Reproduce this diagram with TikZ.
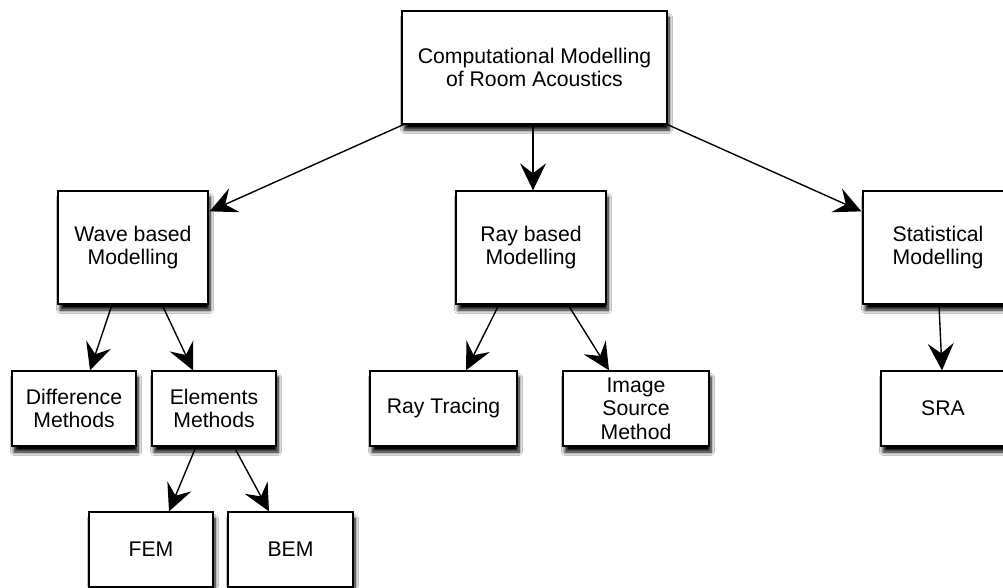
\documentclass[tikz,border=0pt]{standalone}
\usepackage{fontspec}
\setmainfont{Liberation Sans}
\usetikzlibrary{arrows.meta,calc,shadows.blur}
\begin{document}
\begin{tikzpicture}[x=1pt,y=-1pt,
  box/.style={draw=black, line width=1.3pt, fill=white, inner sep=0pt, align=center,
    font=\fontsize{21.2}{23.5}\selectfont,
    blur shadow={shadow xshift=2pt, shadow yshift=-6pt, shadow blur radius=3.5pt, shadow blur steps=8, shadow opacity=100}},
  conn/.style={line width=1.4pt, -{Stealth[length=27pt,width=26pt,inset=10pt]}}]
\useasboundingbox (0,0) rectangle (1003,587);
\fill[white] (0,0) rectangle (1003,587);
\node[box, minimum width=265pt, minimum height=113pt] (top) at (534.5,67.5) {Computational Modelling\\of Room Acoustics};
\node[box, minimum width=150pt, minimum height=113pt] (wave) at (133,247.5) {Wave based\\Modelling};
\node[box, minimum width=150pt, minimum height=113pt] (ray) at (531,247.5) {Ray based\\Modelling};
\node[box, minimum width=150pt, minimum height=113pt] (stat) at (938,247.5) {Statistical\\Modelling};
\node[box, minimum width=124pt, minimum height=75pt] (diff) at (74,408.5) {Difference\\Methods};
\node[box, minimum width=124pt, minimum height=75pt] (elem) at (214,408.5) {Elements\\Methods};
\node[box, minimum width=147pt, minimum height=75pt] (rayt) at (443.5,408.5) {Ray Tracing};
\node[box, minimum width=146pt, minimum height=75pt] (img) at (636,408.5) {Image\\Source\\Method};
\node[box, minimum width=124pt, minimum height=75pt] (sra) at (943,408.5) {SRA};
\node[box, minimum width=124pt, minimum height=75pt] (fem) at (151,549.5) {FEM};
\node[box, minimum width=125pt, minimum height=75pt] (bem) at (290.5,549.5) {BEM};
\draw[conn] ($(top.south west)+(2,0)$) -- ($(wave.north east)+(1,21)$);
\draw[conn] ($(top.south)+(-1.5,0)$) -- ($(ray.north)+(2,0)$);
\draw[conn] (top.south east) -- ($(stat.north west)+(-1,21)$);
\draw[conn] ($(wave.south)+(-21,0)$) -- ($(diff.north)+(16,0)$);
\draw[conn] ($(wave.south)+(29,0)$) -- ($(elem.north)+(-21,0)$);
\draw[conn] ($(ray.south)+(-32,0)$) -- ($(rayt.north)+(22.5,0)$);
\draw[conn] ($(ray.south)+(37,0)$) -- ($(img.north)+(-27,0)$);
\draw[conn] ($(stat.south)+(1,0)$) -- ($(sra.north)+(-1,0)$);
\draw[conn] ($(elem.south)+(-18,0)$) -- ($(fem.north)+(18,0)$);
\draw[conn] ($(elem.south)+(20,0)$) -- ($(bem.north)+(-21.5,0)$);
\end{tikzpicture}
\end{document}
